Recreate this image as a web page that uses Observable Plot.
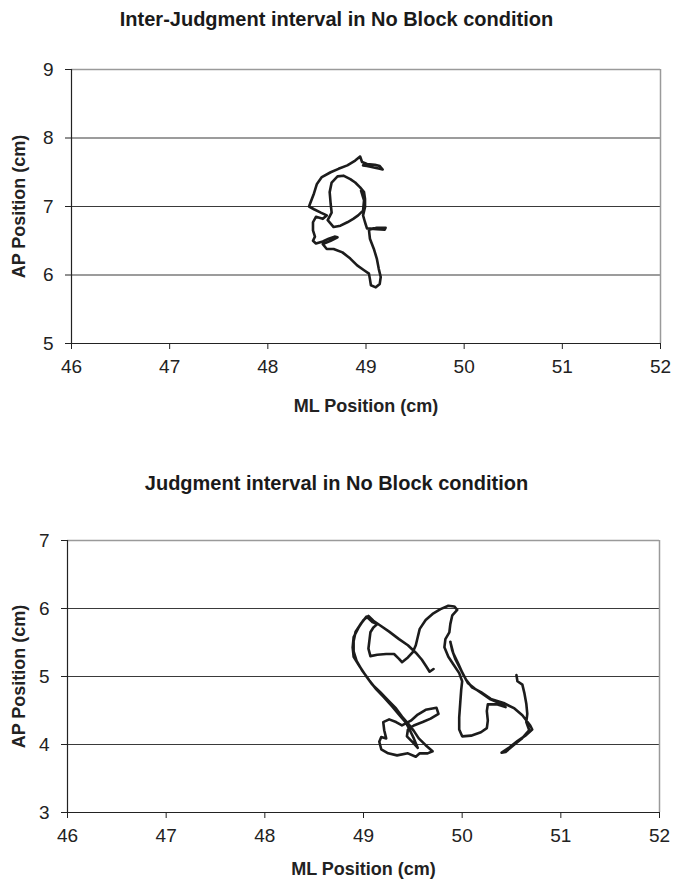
<!DOCTYPE html>
<html>
<head>
<meta charset="utf-8">
<script src="https://cdn.jsdelivr.net/npm/d3@7"></script>
<script src="https://cdn.jsdelivr.net/npm/@observablehq/plot@0.6"></script>
<style>
  html, body { margin: 0; padding: 0; background: #fff; }
  #wrap { position: relative; width: 673px; height: 885px; overflow: hidden; font-family: "Liberation Sans", Arial, sans-serif; }
  .title { position: absolute; left: 0; width: 673px; text-align: center; font-weight: bold; font-size: 20px; line-height: 24px; color: #1a1a1a; }
  .chart { position: absolute; left: 0; }
  .chart svg text { font-family: "Liberation Sans", Arial, sans-serif !important; font-size: 19px !important; fill: #222; }
  .chart svg [aria-label$="axis label"] text { font-weight: bold; font-size: 18px !important; }
</style>
</head>
<body>
<div id="wrap">
  <div class="title" style="top:7px">Inter-Judgment interval in No Block condition</div>
  <div class="chart" id="top" style="top:40px"></div>
  <div class="title" style="top:471px">Judgment interval in No Block condition</div>
  <div class="chart" id="bottom" style="top:505px"></div>
</div>
<script>
// ---- data ----
const xTicks = [46, 47, 48, 49, 50, 51, 52];
const topYTicks = [5, 6, 7, 8, 9];
const bottomYTicks = [3, 4, 5, 6, 7];

const topTitle = "Inter-Judgment interval in No Block condition";
const bottomTitle = "Judgment interval in No Block condition";
const xLabel = "ML Position (cm)";
const yLabel = "AP Position (cm)";

// Inter-Judgment interval: ML (x) and AP (y) positions, cm
const topML = [
  48.97,49.01,49.08,49.14,49.17,49.14,49.09,49.01,48.96,48.94,
  48.89,48.81,48.72,48.64,48.55,48.50,48.47,48.43,48.42,48.47,
  48.54,48.60,48.56,48.49,48.46,48.46,48.48,48.46,48.49,48.56,
  48.62,48.68,48.71,48.64,48.56,48.60,48.67,48.76,48.84,48.91,
  48.98,49.03,49.04,49.05,49.10,49.14,49.15,49.13,49.11,49.08,
  49.04,49.03,49.11,49.20,49.19,49.11,49.01,48.99,48.97,48.99,
  48.99,48.98,48.94,48.89,48.84,48.77,48.71,48.65,48.63,48.64,
  48.65,48.61,48.67,48.74,48.81,48.87,48.92,48.97,48.98,48.95
];
const topAP = [
  7.60,7.59,7.57,7.55,7.54,7.59,7.61,7.62,7.65,7.73,
  7.67,7.60,7.55,7.50,7.43,7.33,7.19,7.04,7.00,6.96,
  6.91,6.87,6.82,6.85,6.77,6.65,6.56,6.50,6.46,6.49,
  6.53,6.56,6.55,6.50,6.45,6.38,6.38,6.33,6.24,6.14,
  6.07,6.02,5.94,5.85,5.82,5.87,5.97,6.09,6.24,6.38,
  6.53,6.66,6.69,6.69,6.66,6.67,6.68,6.77,6.87,6.99,
  7.11,7.21,7.28,7.35,7.40,7.45,7.44,7.35,7.21,7.04,
  6.91,6.80,6.70,6.72,6.77,6.82,6.87,6.94,7.09,7.23
];

// Judgment interval: ML (x) and AP (y) positions, cm
const bottomML = [
  49.71,49.67,49.64,49.59,49.53,49.45,49.36,49.26,49.17,49.10,
  49.05,49.00,48.95,48.90,48.89,48.90,48.96,49.02,49.09,49.17,
  49.25,49.33,49.39,49.45,49.51,49.56,49.63,49.70,49.65,49.57,
  49.53,49.45,49.34,49.25,49.18,49.16,49.18,49.23,49.21,49.20,
  49.26,49.33,49.39,49.48,49.55,49.63,49.74,49.76,49.68,49.60,
  49.51,49.45,49.44,49.50,49.55,49.51,49.47,49.43,49.36,49.29,
  49.21,49.13,49.06,48.99,48.93,48.90,48.90,48.92,48.97,49.03,
  49.09,49.14,49.10,49.07,49.06,49.05,49.07,49.14,49.23,49.31,
  49.36,49.39,49.45,49.50,49.53,49.55,49.57,49.63,49.70,49.78,
  49.86,49.92,49.95,49.90,49.88,49.87,49.83,49.82,49.86,49.91,
  49.97,50.00,49.99,49.98,49.97,49.97,50.00,50.09,50.19,50.25,
  50.26,50.25,50.26,50.35,50.44,50.36,50.28,50.20,50.13,50.06,
  50.01,49.96,49.91,49.88,49.90,49.93,49.99,50.04,50.10,50.19,
  50.29,50.42,50.53,50.61,50.69,50.71,50.64,50.56,50.48,50.40,
  50.44,50.52,50.60,50.68,50.65,50.66,50.65,50.63,50.61,50.56,
  50.55
];
const bottomAP = [
  5.11,5.07,5.14,5.25,5.35,5.46,5.55,5.66,5.75,5.82,
  5.89,5.83,5.72,5.58,5.43,5.29,5.15,5.02,4.88,4.77,
  4.65,4.53,4.41,4.31,4.20,4.09,3.99,3.90,3.87,3.87,
  3.82,3.87,3.84,3.87,3.93,4.04,4.11,4.09,4.21,4.33,
  4.37,4.33,4.28,4.35,4.44,4.51,4.54,4.45,4.38,4.33,
  4.28,4.22,4.12,4.03,3.95,4.09,4.21,4.32,4.44,4.56,
  4.69,4.81,4.94,5.08,5.23,5.37,5.52,5.66,5.77,5.88,
  5.80,5.77,5.72,5.65,5.53,5.41,5.30,5.32,5.33,5.33,
  5.26,5.21,5.28,5.36,5.46,5.58,5.70,5.83,5.92,5.99,
  6.04,6.03,5.98,5.90,5.77,5.65,5.55,5.43,5.29,5.18,
  5.05,4.93,4.80,4.60,4.40,4.22,4.12,4.13,4.18,4.24,
  4.35,4.49,4.59,4.59,4.55,4.62,4.67,4.75,4.82,4.90,
  5.03,5.19,5.34,5.51,5.38,5.26,5.09,4.95,4.84,4.77,
  4.67,4.61,4.53,4.43,4.28,4.22,4.13,4.05,3.96,3.88,
  3.89,3.99,4.08,4.21,4.33,4.45,4.60,4.76,4.88,4.93,
  5.02
];

function makeChart(ml, ap, yTicks, opts) {
  const n = Math.min(ml.length, ap.length);
  const pts = d3.range(n).map(i => ({ml: ml[i], ap: ap[i]}));
  const yMin = yTicks[0], yMax = yTicks[yTicks.length - 1];
  const gridTicks = yTicks.slice(1, -1);
  return Plot.plot({
    width: 673,
    height: opts.height,
    marginLeft: opts.marginLeft,
    marginRight: opts.marginRight,
    marginTop: opts.marginTop,
    marginBottom: opts.marginBottom,
    style: {fontFamily: '"Liberation Sans", Arial, sans-serif', fontSize: "19px", color: "#222", background: "#fff"},
    x: {domain: [xTicks[0], xTicks[xTicks.length - 1]]},
    y: {domain: [yMin, yMax]},
    marks: [
      Plot.ruleY(gridTicks, {stroke: "#3a3a3a", strokeWidth: 1.2}),
      Plot.ruleY([yMax], {stroke: "#9a9a9a", strokeWidth: 1.5}),
      Plot.ruleX([xTicks[xTicks.length - 1]], {stroke: "#9a9a9a", strokeWidth: 1.5}),
      Plot.ruleX([xTicks[0]], {stroke: "#222", strokeWidth: 1.2}),
      Plot.ruleY([yMin], {stroke: "#222", strokeWidth: 1.2}),
      Plot.axisX(xTicks, {tickSize: 6, tickPadding: 10, tickFormat: d => String(d), fontSize: 19, label: xLabel, labelAnchor: "center", labelArrow: "none", labelOffset: opts.xLabelOffset, stroke: "#222"}),
      Plot.axisY(yTicks, {tickSize: 6, tickPadding: 12, tickFormat: d => String(d), fontSize: 19, label: yLabel, labelAnchor: "center", labelArrow: "none", labelOffset: opts.yLabelOffset, stroke: "#222"}),
      Plot.line(pts, {x: "ml", y: "ap", stroke: "#1c1c1c", strokeWidth: 2.6, strokeLinejoin: "round", strokeLinecap: "round"})
    ]
  });
}

document.getElementById("top").append(makeChart(topML, topAP, topYTicks, {
  height: 380, marginLeft: 71, marginRight: 13, marginTop: 29, marginBottom: 77,
  xLabelOffset: 68, yLabelOffset: 59
}));
document.getElementById("bottom").append(makeChart(bottomML, bottomAP, bottomYTicks, {
  height: 380, marginLeft: 67, marginRight: 14, marginTop: 35, marginBottom: 73,
  xLabelOffset: 62, yLabelOffset: 55
}));
</script>
</body>
</html>
